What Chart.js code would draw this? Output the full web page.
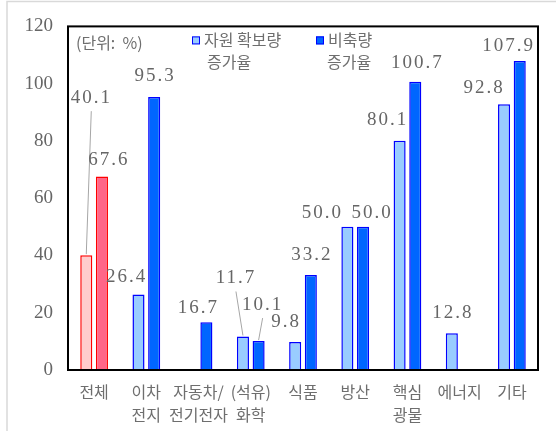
<!DOCTYPE html>
<html>
<head>
<meta charset="utf-8">
<script src="https://cdn.jsdelivr.net/npm/chart.js@4"></script>
<style>
  html, body { margin: 0; padding: 0; background: #fff; }
  #wrap { width: 556px; height: 431px; }
</style>
</head>
<body>
<div id="wrap"><canvas id="chart" width="556" height="431"></canvas></div>
<script>
// values
const categories = ['전체', ['이차', '전지'], ['자동차/', '전기전자'], ['(석유)', '화학'], '식품', '방산', ['핵심', '광물'], '에너지', '기타'];
const secureRate = [40.1, 26.4, null, 11.7, 9.8, 50.0, 80.1, 12.8, 92.8];
const stockRate = [67.6, 95.3, 16.7, 10.1, 33.2, 50.0, 100.7, null, 107.9];
const yTicks = [0, 20, 40, 60, 80, 100, 120];
const seriesNames = [['자원 확보량', '증가율'], ['비축량', '증가율']];

const NUM_FONT = '19px "Liberation Serif", "DejaVu Serif", serif';
const KR_FONT = '"Noto Sans CJK KR", "Noto Sans", sans-serif';
const TEXT = '#666666';
const KR_TEXT = '#6E6E6E';

// where each value label sits relative to its bar top, [dx, dy, leader]
const labelNudge = [
  [[4, -157, true], [-13, -17], null, [-8, -58, true], [-10, -20], [-26, -14], [-13, -21], [0, -20], [-21, -16]],
  [[6, -16], [0, -21], [-9, -14], [3, -36, true], [0, -20], [8, -14], [1, -19], null, [-12, -15]]
];

const lightFill = secureRate.map((v, i) => i === 0 ? '#FFCCCC' : '#99CCFF');
const lightLine = secureRate.map((v, i) => i === 0 ? '#FF0000' : '#0000FF');
const darkFill = stockRate.map((v, i) => i === 0 ? '#FF6688' : '#0066FF');
const darkLine = stockRate.map((v, i) => i === 0 ? '#FF0000' : '#0000FF');

const decorPlugin = {
  id: 'decor',
  beforeDraw(chart) {
    const c = chart.ctx;
    c.save();
    c.strokeStyle = '#D9D9D9';
    c.lineWidth = 1.5;
    c.beginPath();
    c.moveTo(7, 431);
    c.lineTo(7, 1.5);
    c.lineTo(556, 1.5);
    c.stroke();
    c.restore();
  },
  afterDatasetsDraw(chart) {
    const c = chart.ctx;
    const a = chart.chartArea;
    c.save();
    // plot box
    c.strokeStyle = '#000';
    c.lineWidth = 2;
    c.strokeRect(a.left, a.top, a.right - a.left, a.bottom - a.top);

    // value labels
    c.font = NUM_FONT;
    c.letterSpacing = '2px';
    c.fillStyle = TEXT;
    c.textAlign = 'center';
    c.textBaseline = 'middle';
    chart.data.datasets.forEach((ds, di) => {
      const meta = chart.getDatasetMeta(di);
      meta.data.forEach((bar, i) => {
        const v = ds.data[i];
        const n = labelNudge[di][i];
        if (v === null || !n) return;
        const lx = bar.x + n[0];
        const ly = bar.y + n[1];
        c.fillText(v.toFixed(1), lx + 1, ly);
        if (n[2]) {
          c.strokeStyle = '#A6A6A6';
          c.lineWidth = 1;
          c.beginPath();
          c.moveTo(lx + 1, ly + 13);
          c.lineTo(bar.x, bar.y - 1);
          c.stroke();
        }
      });
    });
    c.letterSpacing = '0px';

    // unit note and legend
    c.font = '16px ' + KR_FONT;
    c.textAlign = 'left';
    c.fillStyle = KR_TEXT;
    c.fillText('(단위:  %)', a.left + 8, a.top + 17);
    const items = [
      { x: a.left + 124, fill: '#99CCFF', tx2: 139 },
      { x: a.left + 248, fill: '#0066FF', tx2: 259 }
    ];
    items.forEach((it, k) => {
      c.fillStyle = it.fill;
      c.fillRect(it.x, a.top + 10, 8, 8);
      c.strokeStyle = '#0000FF';
      c.lineWidth = 1;
      c.strokeRect(it.x + 0.5, a.top + 10.5, 7, 7);
      c.fillStyle = KR_TEXT;
      c.fillText(seriesNames[k][0], it.x + 12, a.top + 14);
      c.fillText(seriesNames[k][1], a.left + it.tx2, a.top + 36);
    });
    c.restore();
  }
};

new Chart(document.getElementById('chart'), {
  type: 'bar',
  data: {
    labels: categories,
    datasets: [
      {
        label: seriesNames[0].join(' '),
        data: secureRate,
        backgroundColor: lightFill,
        borderColor: lightLine,
        borderWidth: 1.5
      },
      {
        label: seriesNames[1].join(' '),
        data: stockRate,
        backgroundColor: darkFill,
        borderColor: darkLine,
        borderWidth: 1.5
      }
    ]
  },
  options: {
    responsive: false,
    animation: false,
    events: [],
    layout: { padding: { left: 8, top: 22, right: 18, bottom: 0 } },
    datasets: { bar: { categoryPercentage: 0.6, barPercentage: 0.77 } },
    plugins: {
      legend: { display: false },
      tooltip: { enabled: false }
    },
    scales: {
      x: {
        grid: { display: false, drawTicks: false },
        border: { display: false },
        ticks: {
          color: KR_TEXT,
          padding: 10,
          maxRotation: 0,
          autoSkip: false,
          font: { family: KR_FONT, size: 16, lineHeight: 1.45 }
        },
        afterFit(s) { s.height = 61; }
      },
      y: {
        min: 0,
        max: 120,
        grid: { display: false, drawTicks: false },
        border: { display: false },
        afterBuildTicks(s) { s.ticks = yTicks.map(v => ({ value: v })); },
        ticks: {
          color: TEXT,
          padding: 15,
          font: { family: '"Liberation Serif", "DejaVu Serif", serif', size: 19 }
        },
        afterFit(s) { s.width = 60; }
      }
    }
  },
  plugins: [decorPlugin]
});
</script>
</body>
</html>
